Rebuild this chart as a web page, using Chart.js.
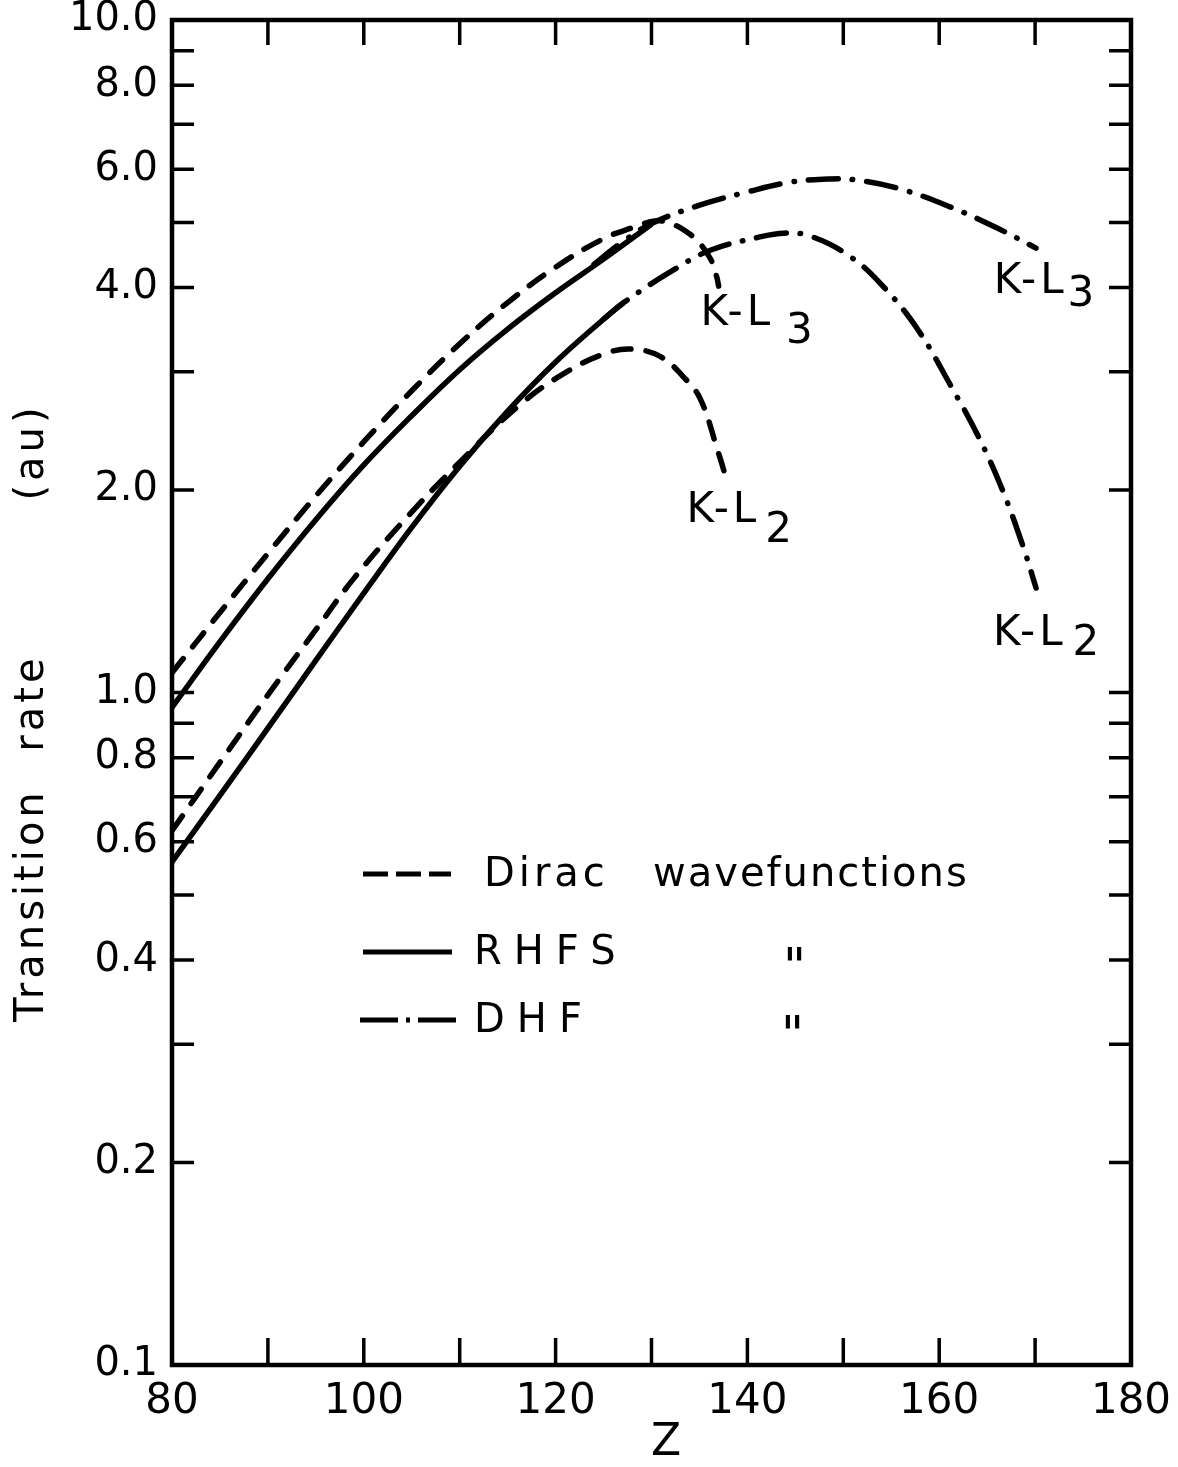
<!DOCTYPE html>
<html>
<head>
<meta charset="utf-8">
<title>Transition rate vs Z</title>
<script src="https://cdn.jsdelivr.net/npm/chart.js@4.4.1/dist/chart.umd.min.js"></script>
<style>
  html, body { margin: 0; padding: 0; background: #fff; }
  #chart { display: block; }
</style>
</head>
<body>
<canvas id="chart" width="1178" height="1467"></canvas>
<script>
// Werte (Z, Übergangsrate in au)
const zDiracL3 = [80, 85, 90, 95, 100, 105, 110, 115, 120, 125, 128, 130.5, 132, 133.5, 135, 136.2, 136.8, 137];
const rateDiracL3 = [1.07, 1.315, 1.61, 1.96, 2.36, 2.81, 3.30, 3.80, 4.29, 4.73, 4.91, 5.03, 4.98, 4.86, 4.66, 4.40, 4.15, 4.02];

const zRhfsL3 = [80, 85, 90, 95, 100, 105, 110, 115, 120, 125, 130];
const rateRhfsL3 = [0.95, 1.19, 1.476, 1.807, 2.18, 2.58, 3.02, 3.47, 3.93, 4.41, 4.97];

const zDhfL3 = [124, 127, 130, 135.1, 140, 144.5, 148.4, 151, 155.7, 161.2, 166.1, 170.1];
const rateDhfL3 = [4.33, 4.68, 4.98, 5.31, 5.55, 5.74, 5.80, 5.79, 5.62, 5.27, 4.90, 4.58];

const zDiracL2 = [80, 85, 90.4, 95, 98.8, 104, 110, 116.3, 121.2, 125.4, 128.1, 130.9, 133.3, 135.1, 136.9, 137.8];
const rateDiracL2 = [0.623, 0.787, 1.01, 1.24, 1.468, 1.79, 2.20, 2.68, 3.00, 3.20, 3.24, 3.16, 2.95, 2.73, 2.29, 2.08];

const zRhfsL2 = [80, 85, 90, 95, 100, 105, 110, 115, 120, 125, 127.1];
const rateRhfsL2 = [0.56, 0.703, 0.885, 1.116, 1.405, 1.76, 2.17, 2.62, 3.10, 3.59, 3.80];

const zDhfL2 = [125, 127.1, 132.3, 136.2, 141.1, 143.8, 146.6, 150.8, 154.2, 157.8, 161.2, 164.1, 166.6, 168.8, 170.1];
const rateDhfL2 = [3.59, 3.80, 4.25, 4.55, 4.75, 4.82, 4.77, 4.44, 4.01, 3.46, 2.86, 2.40, 2.00, 1.64, 1.43];

// Achsen
const xLabels = [80, 100, 120, 140, 160, 180];
const yTicks = [0.1, 0.2, 0.3, 0.4, 0.5, 0.6, 0.7, 0.8, 0.9, 1, 2, 3, 4, 5, 6, 7, 8, 9, 10];
const yLabels = [0.1, 0.2, 0.4, 0.6, 0.8, 1, 2, 4, 6, 8, 10];

// Beschriftungen an den Kurven (Z, Rate)
const curveLabels = [
  { z: 135.1, v: 3.52, text: 'K-L', sub: '3', gap: 12, drop: 18 },
  { z: 165.7, v: 3.93, text: 'K-L', sub: '3', gap: 0, drop: 13 },
  { z: 133.65, v: 1.79, text: 'K-L', sub: '2', gap: 5, drop: 20 },
  { z: 165.6, v: 1.175, text: 'K-L', sub: '2', gap: 6, drop: 10 }
];

const FONT = '"DejaVu Sans", sans-serif';
const DASH = [18, 15];
const DASH_DOT = [30, 14, 0.5, 14];

function pts(zs, vs) {
  return zs.map((z, i) => ({ x: z, y: vs[i] }));
}

function near(list, v) {
  return list.some(t => Math.abs(t - v) < 1e-9);
}

function linie(label, data, dash) {
  return {
    label: label,
    data: data,
    borderColor: '#000',
    borderWidth: 5.5,
    borderDash: dash,
    borderCapStyle: dash.length ? 'round' : 'butt',
    pointRadius: 0,
    fill: false,
    tension: 0.4
  };
}

// Rahmen, Striche nach innen, Titel, Kurvenbeschriftung, Legende
const rahmen = {
  id: 'rahmen',
  afterDraw(chart) {
    const { ctx, chartArea: a, scales: { x, y } } = chart;
    ctx.save();
    ctx.strokeStyle = '#000';
    ctx.fillStyle = '#000';

    ctx.lineWidth = 3.5;
    ctx.beginPath();
    x.ticks.forEach(t => {
      if (t.value <= x.min || t.value >= x.max) return;
      const px = x.getPixelForValue(t.value);
      ctx.moveTo(px, a.bottom); ctx.lineTo(px, a.bottom - 27);
      ctx.moveTo(px, a.top); ctx.lineTo(px, a.top + 25);
    });
    y.ticks.forEach(t => {
      if (t.value <= y.min || t.value >= y.max) return;
      const py = y.getPixelForValue(t.value);
      ctx.moveTo(a.left, py); ctx.lineTo(a.left + 22, py);
      ctx.moveTo(a.right, py); ctx.lineTo(a.right - 22, py);
    });
    ctx.stroke();

    ctx.lineWidth = 4.5;
    ctx.strokeRect(a.left, a.top, a.width, a.height);

    // Kurvenbeschriftung
    ctx.font = '42px ' + FONT;
    ctx.letterSpacing = '4px';
    ctx.textAlign = 'left';
    ctx.textBaseline = 'alphabetic';
    curveLabels.forEach(l => {
      const px = x.getPixelForValue(l.z);
      const py = y.getPixelForValue(l.v);
      ctx.fillText(l.text, px, py);
      const w = ctx.measureText(l.text).width;
      ctx.fillText(l.sub, px + w + l.gap, py + l.drop);
    });

    // Achsentitel
    ctx.font = '40px ' + FONT;
    ctx.letterSpacing = '4px';
    ctx.textAlign = 'center';
    ctx.textBaseline = 'middle';
    [['Transition', 905], ['rate', 703], ['(au)', 452]].forEach(([w, cy]) => {
      ctx.save();
      ctx.translate(33, cy);
      ctx.rotate(-Math.PI / 2);
      ctx.fillText(w, 0, 0);
      ctx.restore();
    });
    ctx.font = '44px ' + FONT;
    ctx.fillText('Z', 668, 1444);

    // Legende
    const zeilen = [
      { y: 874, dash: [25, 8], x0: 363, x1: 451, text: 'Dirac', tx: 484, ditto: 'wavefunctions', dx: 653 },
      { y: 952, dash: [], x0: 363, x1: 452, text: 'RHFS', tx: 474, ditto: '"', dx: 783 },
      { y: 1020, dash: [38, 8, 4, 8, 38], x0: 360, x1: 456, text: 'DHF', tx: 474, ditto: '"', dx: 781 }
    ];
    ctx.lineWidth = 5;
    ctx.textAlign = 'left';
    ctx.textBaseline = 'middle';
    zeilen.forEach(z => {
      ctx.setLineDash(z.dash);
      ctx.beginPath();
      ctx.moveTo(z.x0, z.y);
      ctx.lineTo(z.x1, z.y);
      ctx.stroke();
      ctx.font = '40px ' + FONT;
      ctx.letterSpacing = z.text === 'Dirac' ? '4px' : '12px';
      ctx.fillText(z.text, z.tx, z.y + 2);
      if (z.ditto === '"') {
        ctx.font = '50px ' + FONT;
        ctx.letterSpacing = '0px';
        ctx.fillText(z.ditto, z.dx, z.y + 18);
      } else {
        ctx.letterSpacing = '2px';
        ctx.fillText(z.ditto, z.dx, z.y + 2);
      }
    });
    ctx.setLineDash([]);
    ctx.restore();
  }
};

const ctx = document.getElementById('chart').getContext('2d');

new Chart(ctx, {
  type: 'line',
  data: {
    datasets: [
      linie('Dirac K-L3', pts(zDiracL3, rateDiracL3), DASH),
      linie('RHFS K-L3', pts(zRhfsL3, rateRhfsL3), []),
      linie('DHF K-L3', pts(zDhfL3, rateDhfL3), DASH_DOT),
      linie('Dirac K-L2', pts(zDiracL2, rateDiracL2), DASH),
      linie('RHFS K-L2', pts(zRhfsL2, rateRhfsL2), []),
      linie('DHF K-L2', pts(zDhfL2, rateDhfL2), DASH_DOT)
    ]
  },
  options: {
    responsive: false,
    devicePixelRatio: 1,
    animation: false,
    layout: { padding: { top: 20, right: 47, left: 0, bottom: 0 } },
    plugins: {
      legend: { display: false },
      tooltip: { enabled: false }
    },
    scales: {
      x: {
        type: 'linear',
        min: 80,
        max: 180,
        grid: { display: false, drawTicks: false },
        border: { display: false },
        ticks: {
          stepSize: 10,
          autoSkip: false,
          maxRotation: 0,
          padding: 12,
          color: '#000',
          font: { family: FONT, size: 42 },
          callback: v => near(xLabels, v) ? String(v) : ''
        },
        afterFit: s => { s.height = 102; s.paddingLeft = 0; s.paddingRight = 0; }
      },
      y: {
        type: 'logarithmic',
        min: 0.1,
        max: 10,
        grid: { display: false, drawTicks: false },
        border: { display: false },
        afterBuildTicks: s => { s.ticks = yTicks.map(v => ({ value: v })); },
        ticks: {
          autoSkip: false,
          padding: 14,
          color: '#000',
          font: { family: FONT, size: 40 },
          callback: v => near(yLabels, v) ? v.toFixed(1) : ''
        },
        afterFit: s => { s.width = 172; s.paddingTop = 0; s.paddingBottom = 0; }
      }
    }
  },
  plugins: [rahmen]
});
</script>
</body>
</html>
